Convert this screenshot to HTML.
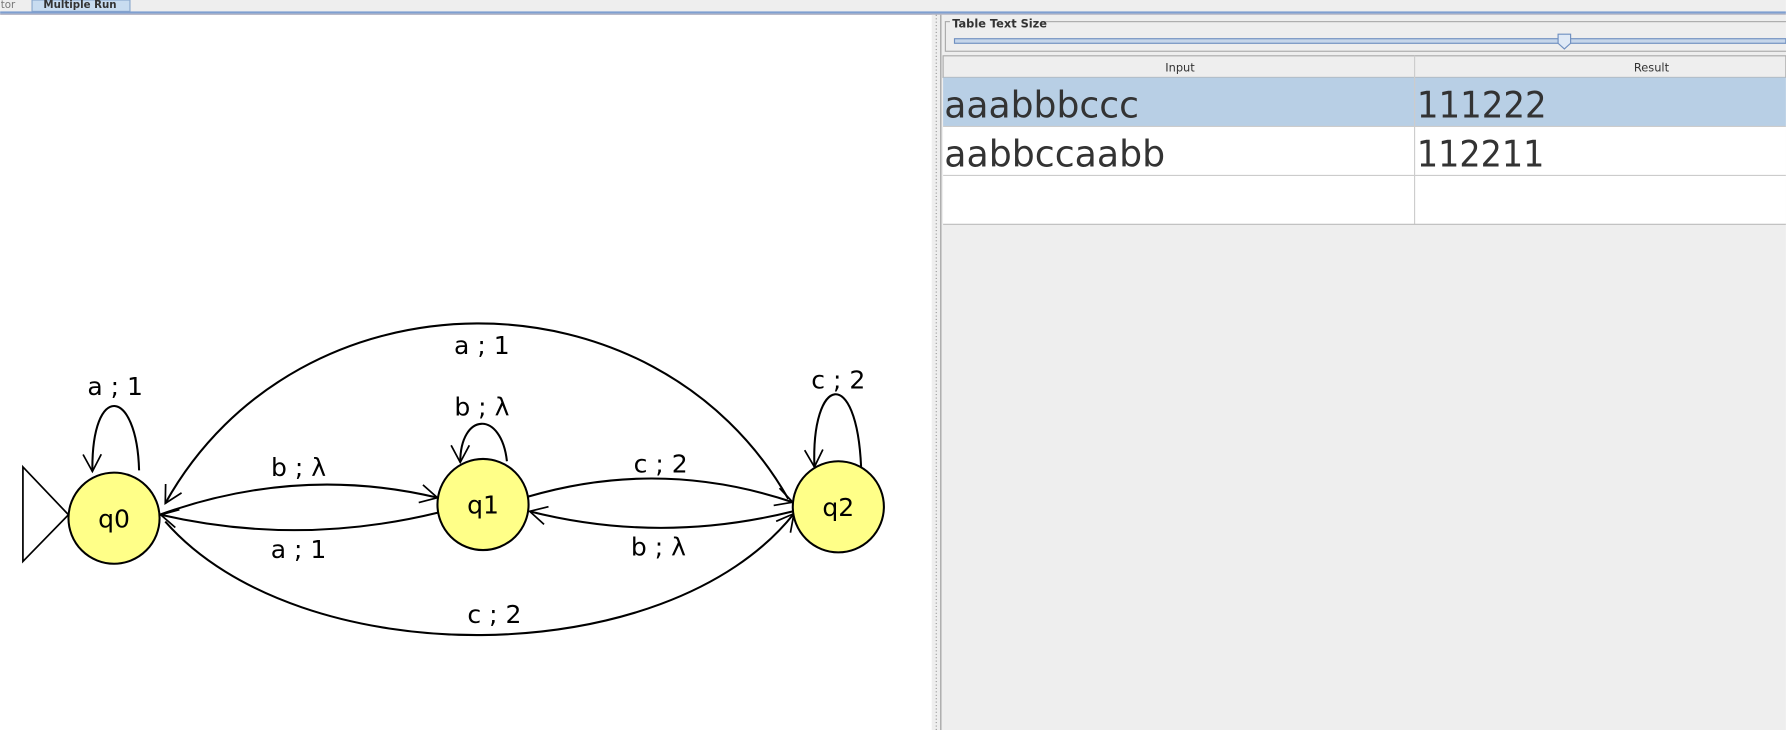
<!DOCTYPE html>
<html><head><meta charset="utf-8"><style>
html,body{margin:0;padding:0;background:#fff;overflow:hidden}
svg{display:block}
text{font-family:"DejaVu Sans","Liberation Sans",sans-serif}
</style></head><body>
<svg width="1786" height="730" viewBox="0 0 1568 641" xmlns="http://www.w3.org/2000/svg">
<defs>
<marker id="a" markerUnits="userSpaceOnUse" markerWidth="20" markerHeight="20" refX="15" refY="8" orient="auto" overflow="visible">
<path d="M0,0 L15,8 L0,16" fill="none" stroke="#000" stroke-width="1.5"/>
</marker>
</defs>
<rect x="0" y="0" width="1568" height="641" fill="#fff"/>
<rect x="0" y="0" width="1568" height="10" fill="#eeeeee"/>
<rect x="28" y="0" width="86" height="10" fill="#c8dcf0" stroke="#8aa8cc" stroke-width="1"/>
<text x="38" y="7" font-size="9" font-weight="bold" fill="#333">Multiple Run</text>
<text x="-2" y="7" font-size="9" fill="#777">itor</text>
<rect x="0" y="10" width="1568" height="2" fill="#7f9fd0"/>
<rect x="0" y="12" width="1568" height="1" fill="#aab"/>
<rect x="818" y="13" width="10" height="628" fill="#eeeeee"/>
<line x1="822" y1="13" x2="822" y2="641" stroke="#999" stroke-dasharray="1,2"/>
<line x1="826" y1="13" x2="826" y2="641" stroke="#999"/>
<rect x="828" y="13" width="740" height="628" fill="#eeeeee"/>
<rect x="830" y="19" width="740" height="26" fill="none" stroke="#aaa"/>
<rect x="834" y="14" width="80" height="10" fill="#eeeeee"/>
<text x="836" y="24" font-size="10" font-weight="bold" fill="#333">Table Text Size</text>
<rect x="838" y="34" width="730" height="4" fill="#c6d6ea" stroke="#6f8fc0" stroke-width="1"/>
<path d="M1368,30 L1379,30 L1379,38 L1373.5,43 L1368,38 Z" fill="#dfe9f6" stroke="#6f8fc0"/>
<rect x="828" y="49" width="740" height="19" fill="#eeeeee" stroke="#aaa"/>
<text x="1036" y="63" font-size="10" fill="#333" text-anchor="middle">Input</text>
<text x="1450" y="63" font-size="10" fill="#333" text-anchor="middle">Result</text>
<rect x="828" y="68" width="740" height="43" fill="#b8cfe5"/>
<rect x="828" y="111" width="740" height="86" fill="#fff"/>
<line x1="1242" y1="49" x2="1242" y2="197" stroke="#ccc"/>
<line x1="828" y1="111" x2="1568" y2="111" stroke="#ccc"/>
<line x1="828" y1="154" x2="1568" y2="154" stroke="#ccc"/>
<line x1="828" y1="197" x2="1568" y2="197" stroke="#bbb"/>
<g font-size="32" fill="#333">
<text x="829" y="103" textLength="171" lengthAdjust="spacingAndGlyphs">aaabbbccc</text>
<text x="1244" y="103" textLength="114" lengthAdjust="spacingAndGlyphs">111222</text>
<text x="829" y="146" textLength="194" lengthAdjust="spacingAndGlyphs">aabbccaabb</text>
<text x="1244" y="146" textLength="112" lengthAdjust="spacingAndGlyphs">112211</text>
</g>
<g fill="none" stroke="#000" stroke-width="1.8">
<path d="M20,410 L60,452 L20,493 Z" stroke-width="1.5"/>
<path d="M140,452 Q262,408 384,437" marker-end="url(#a)"/>
<path d="M385,450 Q262,480 141,452" marker-end="url(#a)"/>
<path d="M464,436 Q580,402 696,441" marker-end="url(#a)"/>
<path d="M696,449 Q580,478 465,449" marker-end="url(#a)"/>
<path d="M692,438 C575,232 262,232 145,442" marker-end="url(#a)"/>
<path d="M145,458 C262,592 585,592 697,451" marker-end="url(#a)"/>
<path d="M122,413 C120,340 80,335 81,414" marker-end="url(#a)"/>
<path d="M445,405 C440,360 404,362 404,406" marker-end="url(#a)"/>
<path d="M756,410 C752,320 712,330 715,410" marker-end="url(#a)"/>
</g>
<g fill="#ffff88" stroke="#000" stroke-width="1.8">
<circle cx="100" cy="455" r="40"/>
<circle cx="424" cy="443" r="40"/>
<circle cx="736" cy="445" r="40"/>
</g>
<g font-size="22" fill="#000" text-anchor="middle">
<text x="100" y="463">q0</text>
<text x="424" y="451">q1</text>
<text x="736" y="453">q2</text>
<text x="101" y="347">a ; 1</text>
<text x="423" y="311">a ; 1</text>
<text x="423" y="365">b ; λ</text>
<text x="736" y="341">c ; 2</text>
<text x="262" y="418">b ; λ</text>
<text x="580" y="415">c ; 2</text>
<text x="262" y="490">a ; 1</text>
<text x="578" y="488">b ; λ</text>
<text x="434" y="547">c ; 2</text>
</g>
</svg>
</body></html>
